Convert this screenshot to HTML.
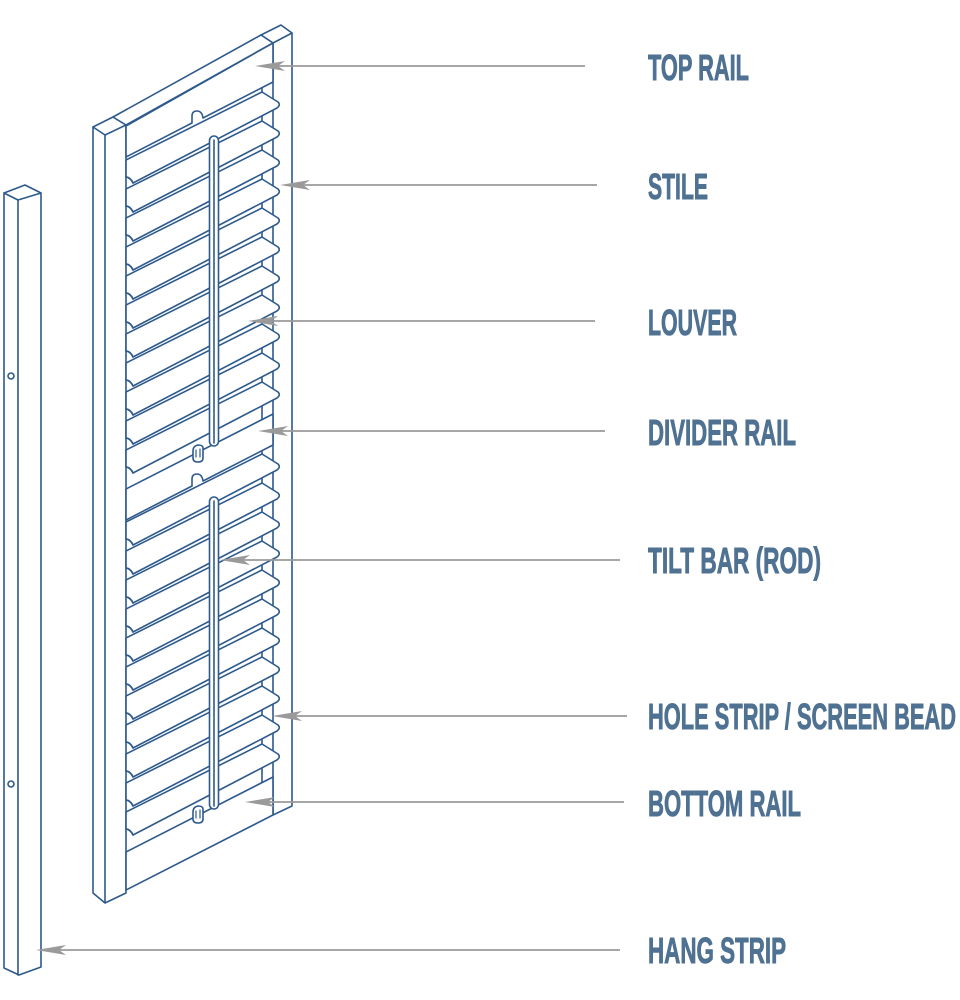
<!DOCTYPE html>
<html><head><meta charset="utf-8"><style>
html,body{margin:0;padding:0;background:#fff;width:960px;height:1000px;overflow:hidden}
svg{display:block}
text{font-family:"Liberation Sans Narrow","Liberation Sans",sans-serif;font-weight:bold;fill:#4f7192;stroke:#4f7192;stroke-width:0.9;font-size:36px}
</style></head><body>
<svg id="s" width="960" height="1000" viewBox="0 0 960 1000" xmlns="http://www.w3.org/2000/svg">
<g id="draw" fill="#fff" stroke="#2e5a8c" stroke-width="1.6" stroke-linejoin="round" stroke-linecap="round">
<path d="M4,193 L25,185 L41,193 L18,200 Z"/>
<path d="M4,193 L4,968 L19,975 L41,967 L41,193 M18,200 L18,975" fill="none"/>
<circle cx="11" cy="376" r="3"/>
<circle cx="11" cy="784" r="3"/>
<path d="M261,35 L281,25 L292,33 L273,43 Z"/>
<path d="M292,33 L292,806 L273,815 L273,43 M262,35 L262,812" fill="none"/>
<path d="M93,127 L113,117 L126,125 L105,135 Z"/>
<path d="M93,127 L93,893 L105,903 L126,893 L126,125 M105,135 L105,903" fill="none"/>
<path d="M113,117 L261,35 L273,43 L126,125 Z"/>
<g id="louvers"></g>
<path d="M126,126 L273,43 L273,82 L203,118 Q202,111 197,111 Q192,111 192,116 L192,123 L126,157 Z"/>
<path d="M126,489 L273,414 L273,445 L203,481 Q202,474 197,474 Q192,474 192,479 L192,486 L126,520 Z"/>
<path d="M126,852 L273,777 L273,815 L126,890 Z"/>
<rect x="209.5" y="136" width="9" height="310" rx="4.5"/>
<path d="M214,140 L214,443" fill="none"/>
<rect x="209.5" y="497" width="9" height="312" rx="4.5"/>
<path d="M214,501 L214,806" fill="none"/>
<path d="M193,451 L193,458 Q193,462 198,462 Q203,462 203,458 L203,448 Q203,445 198,445 Q193,446 193,451 Z"/>
<path d="M196,450 L196,457 M200,449 L200,457" fill="none" stroke-width="1.2"/>
<path d="M193,812 L193,819 Q193,823 198,823 Q203,823 203,819 L203,809 Q203,806 198,806 Q193,807 193,812 Z"/>
<path d="M196,811 L196,818 M200,810 L200,818" fill="none" stroke-width="1.2"/>
</g>
<g id="arrows" stroke="#9a9a9a" stroke-width="1.8" fill="#9a9a9a"></g>
<text x="648" y="80" textLength="101" lengthAdjust="spacingAndGlyphs">TOP RAIL</text>
<text x="648" y="199" textLength="60" lengthAdjust="spacingAndGlyphs">STILE</text>
<text x="648" y="335" textLength="89" lengthAdjust="spacingAndGlyphs">LOUVER</text>
<text x="648" y="445" textLength="148" lengthAdjust="spacingAndGlyphs">DIVIDER RAIL</text>
<text x="648" y="573" textLength="173" lengthAdjust="spacingAndGlyphs">TILT BAR (ROD)</text>
<text x="648" y="729" textLength="308" lengthAdjust="spacingAndGlyphs">HOLE STRIP / SCREEN BEAD</text>
<text x="648" y="816" textLength="153" lengthAdjust="spacingAndGlyphs">BOTTOM RAIL</text>
<text x="648" y="963" textLength="138" lengthAdjust="spacingAndGlyphs">HANG STRIP</text>
</svg>
<script>
(function(){
var NS="http://www.w3.org/2000/svg";
var g=document.getElementById("louvers");
var ys=[];
for(var k=0;k<11;k++)ys.push(183+29*k);
for(var k=0;k<11;k++)ys.push(545+29*k);
ys.forEach(function(y){
 var p=document.createElementNS(NS,"path");
 p.setAttribute("d","M126,"+(y-23)+" L262,"+(y-91)+" L278,"+(y-81)+" Q281,"+(y-78)+" 277,"+(y-75)+" L133,"+y+" Q130,"+(y-6)+" 126,"+(y-6)+" Z");
 g.appendChild(p);
 var c=document.createElementNS(NS,"path");
 c.setAttribute("d","M126,"+(y-6)+" Q131,"+(y-5)+" 133,"+y);
 c.setAttribute("fill","none");
 g.appendChild(c);
});
var a=document.getElementById("arrows");
[[585,255,66],[597,280,185],[595,248,321],[605,258,431],[620,220,560],[627,272,716],[624,245,802],[620,36,950]].forEach(function(r){
 var l=document.createElementNS(NS,"line");
 l.setAttribute("x1",r[0]);l.setAttribute("x2",r[1]+20);l.setAttribute("y1",r[2]);l.setAttribute("y2",r[2]);
 a.appendChild(l);
 var h=document.createElementNS(NS,"path");
 var x=r[1],y=r[2];
 h.setAttribute("d","M"+x+","+y+" L"+(x+30)+","+(y-5)+" L"+(x+23)+","+y+" L"+(x+30)+","+(y+5)+" Z");
 h.setAttribute("stroke","none");
 a.appendChild(h);
});
})();
</script>
</body></html>
